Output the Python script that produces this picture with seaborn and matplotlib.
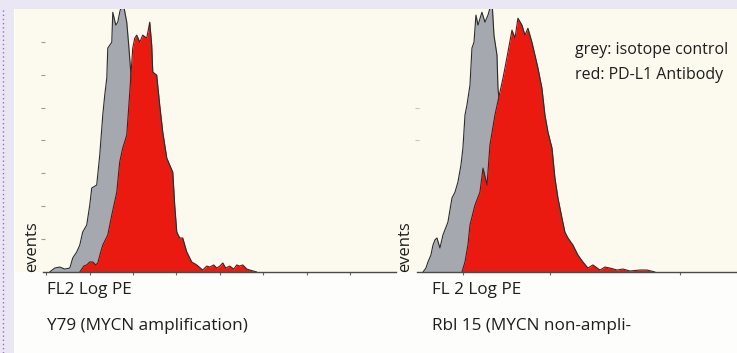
import matplotlib
matplotlib.use("Agg")
import matplotlib.pyplot as plt
import seaborn as sns
from matplotlib.patches import Rectangle
from matplotlib.lines import Line2D

sns.set_style("white")
plt.rcParams['font.family'] = ['Open Sans', 'DejaVu Sans']

# FL2 channel vs. events
# Y79 (MYCN amplification)
y79_iso_ch = [3.2, 7.8, 12.4, 17.1, 21.7, 24.4, 28.1, 30.9, 33.6, 37.3, 40.1, 41.9,
              46.5, 49.3, 52.1, 53.9, 55.8, 56.7, 60.4, 61.3, 64.1, 65.9, 67.7,
              70.5, 74.2, 76.0, 77.9, 78.9, 84.3, 90.8, 100.0, 109.2, 118.4]
y79_iso_ev = [0, 2.4, 3.0, 1.8, 2.4, 8.5, 12.2, 16.4, 24.3, 28.6, 40.7, 51.1,
              52.9, 71.1, 95.5, 107.6, 118.0, 136.2, 139.8, 158.0, 150.2, 152.0,
              158.0, 165.0, 152.0, 138.0, 121.6, 110.6, 74.2, 43.8, 19.5, 6.1, 0]
y79_pdl1_ch = [30.9, 34.6, 37.3, 40.1, 42.9, 45.6, 47.5, 50.2, 52.1, 56.7, 60.4,
               65.0, 67.7, 70.5, 74.2, 77.0, 79.7, 81.6, 83.4, 86.2, 88.9, 92.6,
               95.4, 97.2, 98.2, 101.8, 104.6, 107.4, 111.1, 113.8, 116.6, 118.4,
               120.3, 123.0, 125.8, 129.5, 134.1, 138.7, 144.2, 148.0, 150.7,
               154.4, 157.1, 160.0, 162.7, 165.4, 169.1, 172.8, 175.6, 178.3,
               181.1, 184.8, 187.6, 194.0]
y79_pdl1_ev = [0, 3.6, 4.3, 6.1, 6.1, 4.3, 5.5, 12.2, 16.4, 22.5, 34.7,
               48.6, 66.9, 75.4, 83.3, 109.4, 136.2, 142.3, 144.1, 139.8, 144.1,
               142.3, 152.0, 138.0, 121.6, 119.8, 101.5, 85.1, 69.3, 65.1, 60.8,
               40.7, 24.3, 20.7, 20.7, 12.2, 6.1, 4.3, 1.2, 3.6, 3.0,
               4.3, 2.4, 3.6, 5.5, 2.4, 3.6, 1.8, 4.3, 3.6,
               4.3, 1.8, 1.2, 0]

# Rbl 15 (MYCN non-amplified)
rbl15_iso_ch = [2.8, 5.5, 7.4, 10.1, 12.0, 13.8, 15.7, 18.4, 21.2, 25.8, 29.5,
                32.3, 35.0, 37.8, 39.6, 41.5, 43.3, 46.1, 47.9, 49.8, 51.6, 53.5,
                57.1, 59.9, 62.7, 66.4, 68.2, 71.0, 71.9, 75.6, 81.1, 87.6, 96.8,
                110.6, 119.8]
rbl15_iso_ev = [0, 2.4, 6.1, 10.3, 16.4, 19.5, 20.7, 14.6, 22.5, 30.4, 45.0,
                48.6, 54.7, 65.1, 75.4, 95.5, 101.5, 113.7, 136.2, 139.8, 156.3,
                150.2, 158.0, 152.0, 156.3, 165.0, 144.1, 131.9, 111.9, 86.3, 55.9,
                31.6, 13.4, 2.4, 0]
rbl15_pdl1_ch = [38.7, 41.5, 44.2, 46.1, 50.7, 55.3, 58.1, 61.8, 64.5, 69.1,
                 73.7, 76.5, 78.3, 81.1, 84.8, 87.6, 90.3, 94.0, 96.8, 99.5,
                 103.2, 106.0, 108.8, 112.4, 115.2, 118.0, 121.7, 124.4, 127.2,
                 130.9, 133.6, 136.4, 141.0, 145.6, 150.2, 154.8, 159.4, 165.9,
                 170.5, 175.1, 181.6, 187.1, 193.5, 202.8, 209.2, 216.6]
rbl15_pdl1_ev = [0, 6.1, 16.4, 28.6, 40.7, 48.6, 63.2, 52.9, 77.2, 95.5,
                 109.4, 117.9, 124.0, 133.8, 147.1, 142.3, 154.4, 150.2, 144.1,
                 148.3, 139.8, 131.9, 124.0, 111.9, 95.5, 85.1, 75.4, 57.2, 45.0,
                 32.8, 24.3, 20.7, 16.4, 10.3, 6.1, 2.4, 4.3, 1.2,
                 3.0, 2.4, 1.2, 1.8, 0.6, 1.2, 1.2, 0]

grey_fill = '#a6a8af'
red_fill = '#eb1a10'
edge = '#2b2b2b'
cream = '#fcfaee'
lavender = '#ebe6f3'
W, H = 737, 353


def draw_panel(ax, iso_x, iso_y, ab_x, ab_y, xmax, xticks, yticks, ytick_colour):
    """Overlay of isotope control (grey) and PD-L1 stain (red)"""
    ax.fill_between(iso_x, iso_y, color=grey_fill, lw=0, zorder=1)
    sns.lineplot(x=iso_x, y=iso_y, ax=ax, color=edge, lw=0.8, zorder=2)
    ax.fill_between(ab_x, ab_y, color=red_fill, lw=0, zorder=3)
    sns.lineplot(x=ab_x, y=ab_y, ax=ax, color=edge, lw=0.8, zorder=4)
    ax.set_xlim(-3, xmax)
    ax.set_ylim(0, 160)
    ax.set_facecolor('none')
    for s in ['top', 'right', 'left']:
        ax.spines[s].set_visible(False)
    ax.spines['bottom'].set_color('#4a4a4a')
    ax.spines['bottom'].set_linewidth(1.0)
    ax.spines['bottom'].set_zorder(5)
    ax.set_xticks(xticks)
    ax.set_yticks(yticks)
    ax.set_xticklabels([])
    ax.set_yticklabels([])
    ax.tick_params(axis='x', bottom=True, direction='out', length=2.5,
                   width=0.8, color='#666666')
    ax.tick_params(axis='y', left=True, direction='inout', length=3,
                   width=0.8, color=ytick_colour)
    ax.set(xlabel='', ylabel='')


fig = plt.figure(figsize=(W / 100, H / 100), dpi=100)
fig.patch.set_facecolor('#fdfdfb')

# Page background pieces: cream plot area, lavender frame, dotted margin
fig.add_artist(Rectangle((15 / W, 81 / H), 1 - 15 / W, 263 / H,
                         transform=fig.transFigure, color=cream, lw=0, zorder=0))
fig.add_artist(Rectangle((0, 344 / H), 1, 9 / H,
                         transform=fig.transFigure, color=lavender, lw=0, zorder=0))
fig.add_artist(Rectangle((0, 0), 14 / W, 1,
                         transform=fig.transFigure, color=lavender, lw=0, zorder=0))
fig.add_artist(Line2D([2.5 / W, 2.5 / W], [0, 344 / H], transform=fig.transFigure,
                      color='#9b6cc4', lw=1.0, linestyle=(0, (1, 2))))

ax1 = fig.add_axes([43 / W, 81 / H, 352.6 / W, 263 / H])
draw_panel(ax1, y79_iso_ch, y79_iso_ev, y79_pdl1_ch, y79_pdl1_ev, 322,
           [0, 40, 80, 120, 160, 200, 240, 280],
           [20, 40, 60, 80, 100, 120, 140], '#9a9a9a')

ax2 = fig.add_axes([416.7 / W, 81 / H, (W - 416.7) / W, 263 / H])
draw_panel(ax2, rbl15_iso_ch, rbl15_iso_ev, rbl15_pdl1_ch, rbl15_pdl1_ev, 292.2,
           [40, 120, 240], [80, 100], '#c4c4c0')

txt = '#1e1e1e'
fig.text(32 / W, 1 - 272 / H, 'events', rotation=90, ha='center', va='bottom',
         fontsize=12, color=txt)
fig.text(405 / W, 1 - 272 / H, 'events', rotation=90, ha='center', va='bottom',
         fontsize=12, color=txt)
fig.text(47 / W, 1 - 294 / H, 'FL2 Log PE', ha='left', va='baseline',
         fontsize=12.3, color=txt)
fig.text(47 / W, 1 - 330 / H, 'Y79 (MYCN amplification)', ha='left',
         va='baseline', fontsize=12.3, color=txt)
fig.text(432 / W, 1 - 294 / H, 'FL 2 Log PE', ha='left', va='baseline',
         fontsize=12.3, color=txt)
fig.text(432 / W, 1 - 330 / H, 'Rbl 15 (MYCN non-ampli-', ha='left',
         va='baseline', fontsize=12.3, color=txt)
fig.text(575 / W, 1 - 54 / H, 'grey: isotope control', ha='left', va='baseline',
         fontsize=11.5, color=txt)
fig.text(575 / W, 1 - 79 / H, 'red: PD-L1 Antibody', ha='left', va='baseline',
         fontsize=11.5, color=txt)

plt.savefig('out.png', dpi=100)
